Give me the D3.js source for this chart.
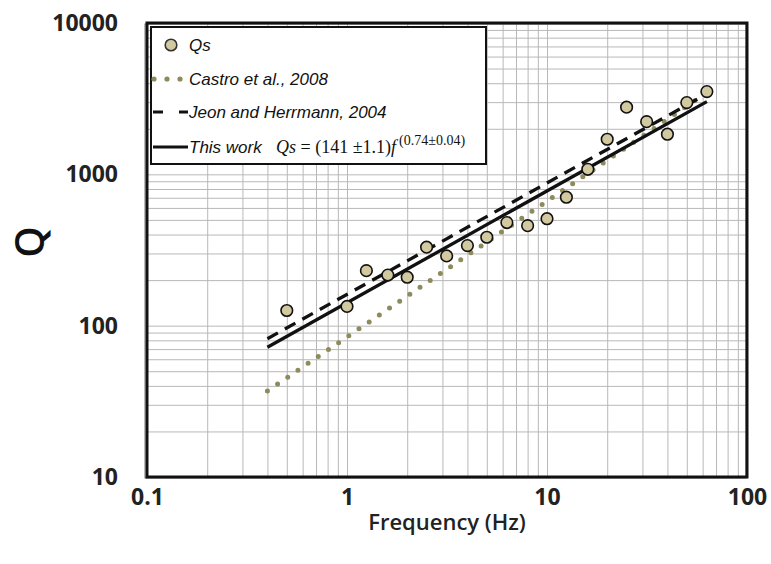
<!DOCTYPE html>
<html><head><meta charset="utf-8">
<script src="https://cdn.jsdelivr.net/npm/d3@7"></script>
<style>body{margin:0;background:#fff}</style>
</head><body>
<svg id="c" width="771" height="564" xmlns="http://www.w3.org/2000/svg"></svg>
<script>
// ---- data ----
const freqs = [0.5, 1, 1.25, 1.6, 2, 2.5, 3.15, 4, 5, 6.3, 8, 10, 12.5, 16, 20, 25, 31.5, 40, 50, 63];
const qsValues = [126, 134, 231, 216, 209, 330, 289, 338, 384, 480, 458, 509, 706, 1080, 1706, 2777, 2229, 1841, 2978, 3521];
const lineFreqs = [0.4, 63];
const castroValues = [37, 3470];
const jeonValues = [82, 3400];
const thisWorkValues = [72, 3025];
const xTickValues = [0.1, 1, 10, 100];
const yTickValues = [10, 100, 1000, 10000];
const xTickLabels = ["0.1", "1", "10", "100"];
const yTickLabels = ["10", "100", "1000", "10000"];
const legendLabels = ["Qs", "Castro et al., 2008", "Jeon and Herrmann, 2004", "This work"];

// ---- layout ----
const svg = d3.select("#c");
const L = 147, R = 747, T = 23, B = 477;
const x = d3.scaleLog().domain([0.1, 100]).range([L, R]);
const y = d3.scaleLog().domain([10, 10000]).range([B, T]);

const olive = "#8d8a5c";
const tan = "#d2c9a0";

// grid values (1..9 per decade)
const xGrid = [], yGrid = [];
[0.1, 1, 10].forEach(d => { for (let k = 1; k <= 9; k++) xGrid.push(+(d * k).toPrecision(3)); });
xGrid.push(100);
[10, 100, 1000].forEach(d => { for (let k = 1; k <= 9; k++) yGrid.push(d * k); });
yGrid.push(10000);

svg.append("g").attr("transform", `translate(0,${B})`)
  .call(d3.axisBottom(x).tickValues(xGrid).tickSize(-(B - T)).tickFormat(""))
  .call(g => g.select(".domain").remove())
  .call(g => g.selectAll("line").attr("stroke", "#b8b8b8").attr("stroke-width", 1));
svg.append("g").attr("transform", `translate(${L},0)`)
  .call(d3.axisLeft(y).tickValues(yGrid).tickSize(-(R - L)).tickFormat(""))
  .call(g => g.select(".domain").remove())
  .call(g => g.selectAll("line").attr("stroke", "#b8b8b8").attr("stroke-width", 1));

// tick labels via axes
const xAx = svg.append("g").attr("transform", `translate(0,${B + 9})`)
  .call(d3.axisBottom(x).tickValues(xTickValues).tickSize(0).tickFormat((d, i) => xTickLabels[i]));
xAx.select(".domain").remove();
xAx.selectAll("text").attr("font-family", "'Open Sans', sans-serif").attr("font-weight", "bold")
  .attr("font-size", 23).attr("fill", "#222").attr("dy", "0.71em");
const yAx = svg.append("g").attr("transform", `translate(${L - 29},0)`)
  .call(d3.axisLeft(y).tickValues(yTickValues).tickSize(0).tickFormat((d, i) => yTickLabels[i]));
yAx.select(".domain").remove();
yAx.selectAll("text").attr("font-family", "'Open Sans', sans-serif").attr("font-weight", "bold")
  .attr("font-size", 23).attr("fill", "#222").attr("x", 0);

// axis titles
svg.append("text").attr("x", 447).attr("y", 530).attr("text-anchor", "middle")
  .attr("font-family", "'Open Sans', sans-serif").attr("font-weight", 600).attr("font-size", 22)
  .attr("fill", "#222").text("Frequency (Hz)");
svg.append("text").attr("transform", "translate(44,242) rotate(-90)").attr("text-anchor", "middle")
  .attr("font-family", "'Open Sans', sans-serif").attr("font-weight", 600).attr("font-size", 40)
  .attr("fill", "#111").text("Q");

// lines
const lineGen = d3.line().x(d => x(d[0])).y(d => y(d[1]));
svg.append("path").datum(lineFreqs.map((f, i) => [f, castroValues[i]]))
  .attr("d", lineGen).attr("fill", "none").attr("stroke", olive).attr("stroke-width", 5)
  .attr("stroke-linecap", "round").attr("stroke-dasharray", "0 12.3");
svg.append("path").datum(lineFreqs.map((f, i) => [f, jeonValues[i]]))
  .attr("d", lineGen).attr("fill", "none").attr("stroke", "#111").attr("stroke-width", 3.3)
  .attr("stroke-dasharray", "12 8");
svg.append("path").datum(lineFreqs.map((f, i) => [f, thisWorkValues[i]]))
  .attr("d", lineGen).attr("fill", "none").attr("stroke", "#111").attr("stroke-width", 3.3);

// points
svg.append("g").selectAll("circle").data(freqs.map((f, i) => [f, qsValues[i]])).join("circle")
  .attr("cx", d => x(d[0])).attr("cy", d => y(d[1])).attr("r", 5.8)
  .attr("fill", tan).attr("stroke", "#111").attr("stroke-width", 1.6);

// frame
svg.append("rect").attr("x", L - 1).attr("y", T).attr("width", R - L + 1).attr("height", B - T)
  .attr("fill", "none").attr("stroke", "#777").attr("stroke-width", 1).attr("transform", "translate(-1,1)");
svg.append("rect").attr("x", L).attr("y", T).attr("width", R - L).attr("height", B - T)
  .attr("fill", "none").attr("stroke", "#111").attr("stroke-width", 3);

// legend
const lg = svg.append("g");
lg.append("rect").attr("x", 151).attr("y", 27).attr("width", 335).attr("height", 137)
  .attr("fill", "#fff").attr("stroke", "#111").attr("stroke-width", 2);
const rowY = [45, 79, 112, 147];
lg.append("circle").attr("cx", 171).attr("cy", rowY[0]).attr("r", 5.8)
  .attr("fill", tan).attr("stroke", "#333").attr("stroke-width", 1.6);
[154, 167, 180].forEach(cx => lg.append("circle").attr("cx", cx).attr("cy", rowY[1]).attr("r", 2.6).attr("fill", olive));
lg.append("line").attr("x1", 153).attr("x2", 188).attr("y1", rowY[2]).attr("y2", rowY[2])
  .attr("stroke", "#111").attr("stroke-width", 3).attr("stroke-dasharray", "10 16");
lg.append("line").attr("x1", 153).attr("x2", 188).attr("y1", rowY[3]).attr("y2", rowY[3])
  .attr("stroke", "#111").attr("stroke-width", 3);
legendLabels.forEach((t, i) => {
  lg.append("text").attr("x", 189).attr("y", rowY[i]).attr("dy", "0.35em")
    .attr("font-family", "'Liberation Sans', Arial, sans-serif").attr("font-style", "italic")
    .attr("font-size", 17).attr("fill", "#111").text(t);
});
const eq = lg.append("text").attr("x", 276).attr("y", rowY[3]).attr("dy", "0.35em")
  .attr("font-family", "'Liberation Serif', 'Times New Roman', serif").attr("font-size", 18).attr("fill", "#111");
eq.append("tspan").attr("font-style", "italic").text("Qs");
eq.append("tspan").text(" = (141 ±1.1)");
eq.append("tspan").attr("font-style", "italic").text("f");
eq.append("tspan").attr("font-size", 14).attr("dx", 3).attr("dy", "-0.6em").text("(0.74±0.04)");
</script>
</body></html>
